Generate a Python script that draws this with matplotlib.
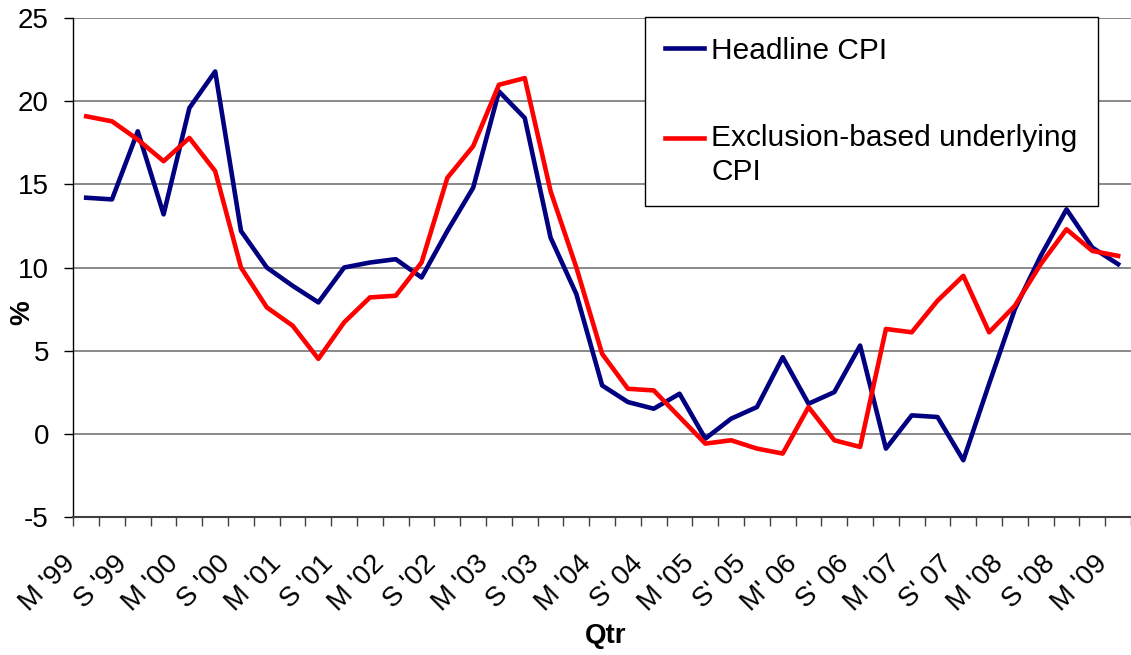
import numpy as np
import matplotlib.pyplot as plt
from matplotlib.legend_handler import HandlerLine2D
from matplotlib.transforms import ScaledTranslation

plt.rcParams['font.family'] = ['Liberation Sans', 'DejaVu Sans']
plt.rcParams['axes.unicode_minus'] = False

# quarterly annual % change, Mar 1999 - Mar 2009
headline = [14.2, 14.1, 18.2, 13.2, 19.6, 21.8, 12.2, 10.0, 8.9, 7.9,
            10.0, 10.3, 10.5, 9.4, 12.2, 14.8, 20.6, 19.0, 11.8, 8.4,
            2.9, 1.9, 1.5, 2.4, -0.3, 0.9, 1.6, 4.6, 1.8, 2.5,
            5.3, -0.9, 1.1, 1.0, -1.6, 3.0, 7.5, 10.7, 13.5, 11.2, 10.2]
underlying = [19.1, 18.8, 17.7, 16.4, 17.8, 15.8, 10.0, 7.6, 6.5, 4.5,
              6.7, 8.2, 8.3, 10.3, 15.4, 17.3, 21.0, 21.4, 14.6, 10.0,
              4.8, 2.7, 2.6, 1.0, -0.6, -0.4, -0.9, -1.2, 1.6, -0.4,
              -0.8, 6.3, 6.1, 8.0, 9.5, 6.1, 7.7, 10.2, 12.3, 11.0, 10.7]
# every second quarter is labelled
tick_labels = ["M '99", "S '99", "M '00", "S '00", "M '01", "S '01", "M '02",
               "S '02", "M '03", "S '03", "M '04", "S' 04", "M '05", "S' 05",
               "M' 06", "S' 06", "M '07", "S' 07", "M '08", "S '08", "M '09"]

qtr = np.arange(len(headline))

fig = plt.figure(figsize=(11.31, 6.55), dpi=100)
W, H = 1131, 655
left, top, bottom = 73.3, 18.3, 516.7
ax = fig.add_axes([left / W, 1 - bottom / H, 1 - left / W, (bottom - top) / H])

ax.plot(qtr, headline, color='#000080', lw=3.3, label='Headline CPI')
ax.plot(qtr, underlying, color='#ff0000', lw=3.3,
        label='Exclusion-based underlying\nCPI')

ax.set_ylim(-5, 25)
ax.set_xlim(-0.5, 40.5 - 5.5 / 25.9)
ax.set_yticks(np.arange(-5, 26, 5))
ax.grid(axis='y', color='#808080', lw=1.3)
ax.set_axisbelow(True)

ax.set_xticks(qtr[::2])
ax.set_xticklabels(tick_labels, rotation=45, ha='right', va='center',
                   rotation_mode='anchor')
ax.set_xticks(np.arange(-0.5, 41, 1), minor=True)
ax.tick_params(axis='x', which='major', length=0, pad=31, labelsize=20)
ax.tick_params(axis='x', which='minor', length=6.5, width=1, direction='out',
               color='#404040')
ax.tick_params(axis='y', length=6.5, width=1, direction='out', pad=11,
               labelsize=20)
for lab in ax.get_xticklabels():
    lab.set_transform(lab.get_transform() +
                      ScaledTranslation(-0.15, 0, fig.dpi_scale_trans))

for s in ('top', 'right'):
    ax.spines[s].set_visible(False)
ax.spines['left'].set_color('black')
ax.spines['left'].set_linewidth(1)
ax.spines['bottom'].set_color('#404040')
ax.spines['bottom'].set_linewidth(1.5)

ax.set_ylabel('%', fontsize=20, fontweight='bold', va='center', ha='center')
ax.yaxis.set_label_coords(-0.0485, 0.409)
ax.set_xlabel('Qtr', fontsize=20, fontweight='bold', va='center', ha='center')
ax.xaxis.set_label_coords(0.503, -0.239)


class FirstLineHandler(HandlerLine2D):
    # lift the swatch so it sits beside the first line of a wrapped label
    def __init__(self, shift=0, **kw):
        super().__init__(**kw)
        self.shift = shift

    def create_artists(self, legend, orig_handle, xdescent, ydescent,
                       width, height, fontsize, trans):
        return super().create_artists(legend, orig_handle, xdescent,
                                      ydescent - 2 * self.shift, width,
                                      height, fontsize, trans)


lines = ax.get_lines()
leg = ax.legend(handler_map={lines[1]: FirstLineHandler(shift=12.6)},
                loc='upper left', bbox_to_anchor=(645 / W, 1 - 16.7 / H),
                bbox_transform=fig.transFigure, borderaxespad=0,
                fontsize=21.5, frameon=True, fancybox=False, framealpha=1,
                edgecolor='black', borderpad=0.67, labelspacing=1.98,
                handlelength=1.3, handletextpad=0.25)
leg.get_frame().set_linewidth(1)
for t in leg.get_texts():
    t.set_linespacing(1.3)

fig.savefig('out.png', dpi=100)
